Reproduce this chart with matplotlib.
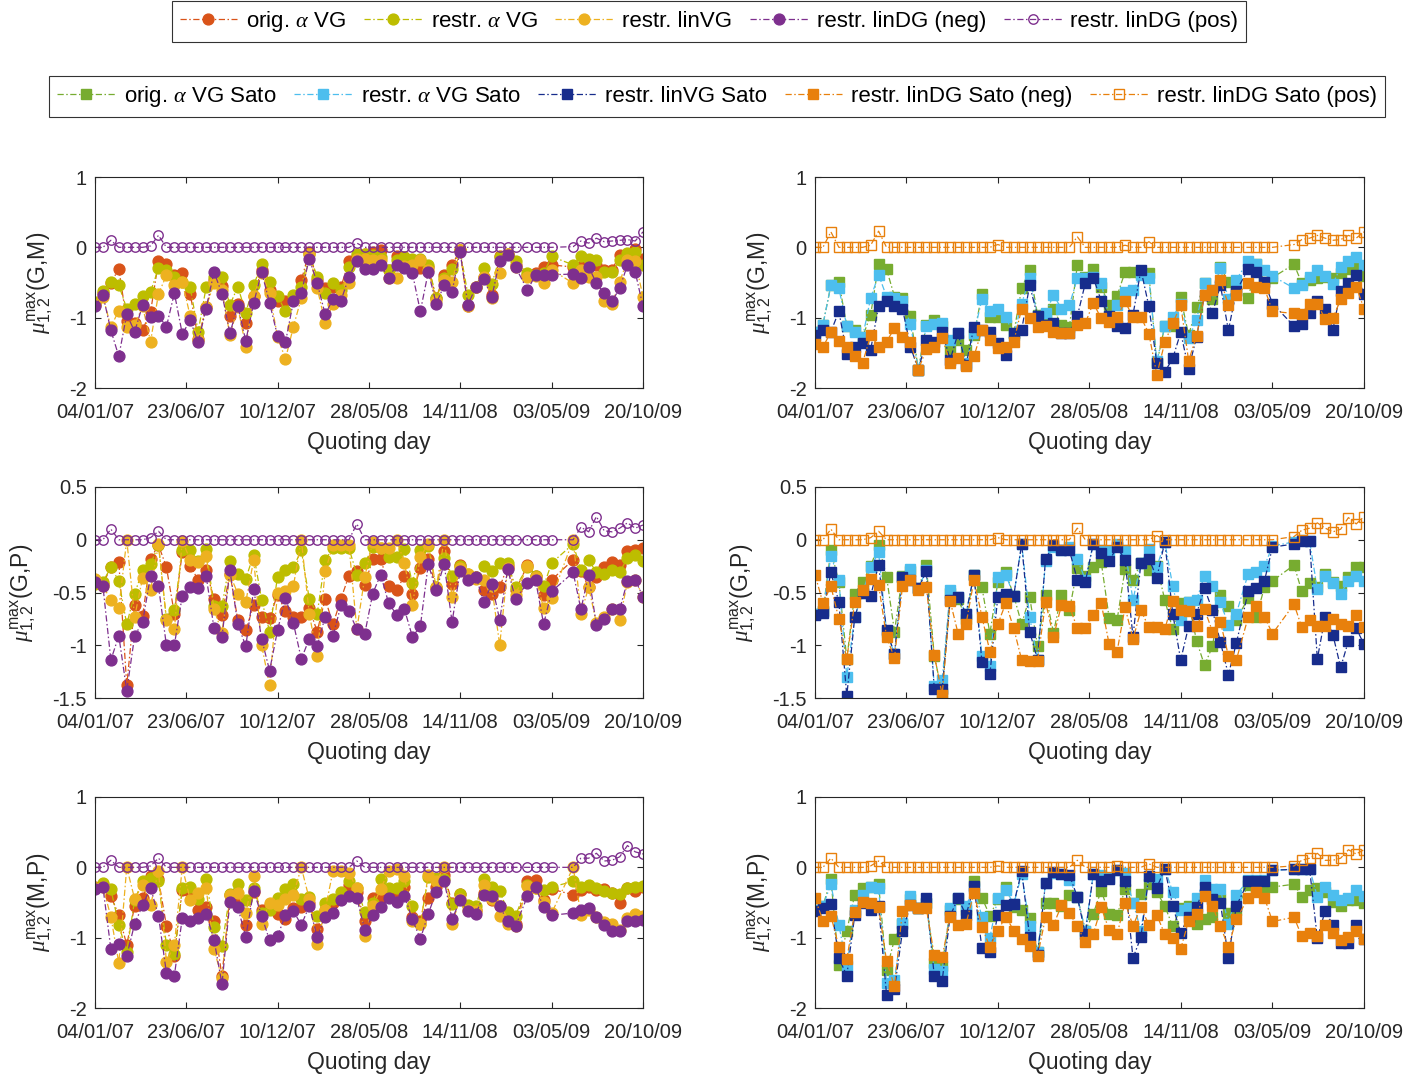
import numpy as np
import pandas as pd
import matplotlib
matplotlib.use("Agg")
import matplotlib.pyplot as plt
import matplotlib.dates as mdates
from matplotlib.lines import Line2D

plt.rcParams['font.family'] = ['Liberation Sans', 'DejaVu Sans']
plt.rcParams['mathtext.fontset'] = 'custom'
plt.rcParams['mathtext.rm'] = 'Liberation Sans'
plt.rcParams['mathtext.it'] = 'Liberation Serif:italic'

# ---------------- quoting days (offsets in days from 04/01/2007) ----------------
start = pd.Timestamp('2007-01-04')
quote_days = np.concatenate([np.arange(54) * 14.77, 805 + np.arange(4) * 15.0, 890 + np.arange(10) * 14.44])
dates = start + pd.to_timedelta(quote_days, unit='D')

# ---------------- (G,M) left ----------------
gm_orig = [-0.8,-0.65,-0.5,-0.31,-1.05,-1.08,-1.17,-0.92,-0.2,-0.23,
 -0.4,-0.36,-0.66,-1.3,-0.85,-0.47,-0.55,-0.97,-0.8,-1.08,
 -0.69,-0.32,-0.6,-0.77,-0.77,-0.72,-0.47,-0.06,-0.47,-0.58,
 -0.56,-0.56,-0.2,-0.13,-0.09,-0.06,-0.04,-0.32,-0.13,-0.14,
 -0.2,-0.3,-0.28,-0.72,-0.39,-0.25,-0.04,-0.84,-0.56,-0.42,
 -0.68,-0.13,-0.09,-0.25,-0.39,-0.37,-0.28,-0.25,-0.28,-0.28,
 -0.18,-0.25,-0.32,-0.32,-0.11,-0.11,-0.02,-0.16]
gm_ralpha = [-0.78,-0.62,-0.49,-0.54,-0.87,-0.8,-0.69,-0.63,-0.3,-0.32,
 -0.42,-0.49,-0.57,-1.2,-0.57,-0.42,-0.42,-0.82,-0.56,-0.93,
 -0.54,-0.23,-0.49,-0.69,-0.91,-0.68,-0.56,-0.09,-0.42,-0.65,
 -0.5,-0.6,-0.28,-0.09,-0.09,-0.11,-0.14,-0.32,-0.18,-0.14,
 -0.16,-0.16,-0.25,-0.72,-0.44,-0.31,-0.04,-0.68,-0.56,-0.3,
 -0.52,-0.14,-0.09,-0.2,-0.37,-0.39,-0.37,-0.13,-0.25,-0.13,
 -0.16,-0.18,-0.35,-0.35,-0.18,-0.08,-0.06,-0.25]
gm_linvg = [-0.82,-0.7,-1.13,-0.9,-1.13,-1.1,-0.84,-1.34,-0.66,-0.4,
 -0.54,-0.49,-0.98,-1.32,-0.85,-0.51,-0.61,-1.25,-0.85,-1.41,
 -0.69,-0.37,-0.65,-1.27,-1.59,-1.13,-0.72,-0.1,-0.58,-1.07,
 -0.8,-0.68,-0.51,-0.17,-0.16,-0.18,-0.18,-0.44,-0.44,-0.27,
 -0.25,-0.18,-0.32,-0.77,-0.46,-0.49,-0.04,-0.84,-0.56,-0.42,
 -0.72,-0.37,-0.09,-0.28,-0.42,-0.41,-0.51,-0.32,-0.51,-0.32,
 -0.42,-0.42,-0.76,-0.8,-0.49,-0.18,-0.2,-0.7]
gm_neg = [-0.83,-0.68,-1.18,-1.55,-0.95,-1.2,-0.82,-0.99,-0.97,-1.13,
 -0.65,-1.23,-1.04,-1.35,-0.87,-0.35,-0.66,-1.22,-0.83,-1.33,
 -0.79,-0.35,-0.79,-1.26,-1.35,-0.77,-0.65,-0.16,-0.51,-0.95,
 -0.74,-0.76,-0.42,-0.19,-0.31,-0.31,-0.25,-0.44,-0.25,-0.30,
 -0.37,-0.91,-0.35,-0.80,-0.54,-0.63,-0.06,-0.82,-0.56,-0.45,
 -0.71,-0.19,-0.11,-0.28,-0.61,-0.39,-0.39,-0.39,-0.38,-0.43,
 -0.28,-0.51,-0.65,-0.77,-0.58,-0.25,-0.35,-0.84]
gm_pos = [0,0,0.1,0,0,0,0,0.02,0.17,0,
 0,0,0,0,0,0,0,0,0,0,
 0,0,0,0,0,0,0,0,0,0,
 0,0,0,0.06,0,0,0,0,0,0,
 0,0,0,0,0,0,0,0,0,0,
 0,0,0,0,0,0,0,0,0.01,0.09,
 0.06,0.13,0.08,0.09,0.1,0.11,0.09,0.22]

# ---------------- (G,M) Sato ----------------
gms_orig = [-1.2,-1.1,-0.54,-0.49,-1.12,-1.17,-1.27,-0.96,-0.24,-0.31,
 -0.7,-0.72,-0.98,-1.74,-1.1,-1.04,-1.12,-1.46,-1.32,-1.46,
 -1.25,-0.66,-0.99,-0.99,-1.1,-1.22,-0.58,-0.32,-0.96,-0.95,
 -0.88,-1.1,-1.13,-0.25,-0.42,-0.31,-0.56,-0.82,-0.69,-0.35,
 -0.35,-0.37,-0.37,-1.65,-1.12,-1.12,-0.71,-1.25,-0.85,-0.51,
 -0.73,-0.28,-0.49,-0.61,-0.72,-0.23,-0.49,-0.43,-0.24,-0.51,
 -0.46,-0.43,-0.42,-0.44,-0.37,-0.31,-0.3,-0.41]
gms_ralpha = [-1.2,-1.1,-0.54,-0.58,-1.12,-1.2,-1.27,-0.72,-0.39,-0.7,
 -0.72,-0.77,-1.09,-1.74,-1.12,-1.09,-1.08,-1.32,-1.22,-1.65,
 -1.22,-0.74,-0.9,-0.87,-0.99,-1.25,-0.8,-0.44,-0.98,-0.94,
 -0.68,-0.87,-0.82,-0.44,-0.43,-0.42,-0.51,-0.98,-0.82,-0.63,
 -0.6,-0.4,-0.43,-1.62,-1.12,-0.99,-0.8,-1.29,-1.03,-0.5,
 -0.61,-0.3,-0.73,-0.46,-0.19,-0.24,-0.32,-0.41,-0.58,-0.54,
 -0.42,-0.32,-0.41,-0.52,-0.28,-0.19,-0.14,-0.25]
gms_linvg = [-1.25,-1.17,-1.2,-0.91,-1.51,-1.42,-1.36,-1.46,-0.83,-0.77,
 -0.83,-0.87,-1.41,-1.74,-1.32,-1.34,-1.2,-1.6,-1.22,-1.67,
 -1.13,-1.17,-1.2,-1.36,-1.53,-1.22,-1.17,-0.54,-0.98,-1.1,
 -1.08,-1.22,-1.22,-0.98,-0.51,-0.43,-0.76,-0.98,-1.12,-1.15,
 -0.96,-0.32,-0.84,-1.65,-1.77,-1.58,-1.21,-1.73,-1.27,-0.68,
 -0.93,-0.54,-1.18,-0.62,-0.31,-0.35,-0.49,-0.8,-1.12,-1.09,
 -0.93,-0.76,-0.87,-1.17,-0.62,-0.5,-0.39,-0.66]
gms_neg = [-1.37,-1.42,-1.2,-1.33,-1.41,-1.54,-1.64,-1.25,-1.41,-1.34,
 -1.15,-1.27,-1.34,-1.74,-1.45,-1.42,-1.29,-1.64,-1.58,-1.69,
 -1.55,-1.17,-1.32,-1.43,-1.41,-1.34,-0.87,-1.01,-1.13,-1.12,
 -1.2,-1.22,-1.22,-1.1,-1.08,-0.79,-1.01,-1.06,-0.99,-0.77,
 -0.99,-0.99,-1.23,-1.81,-1.35,-1.08,-0.82,-1.61,-1.26,-0.68,
 -0.61,-0.46,-0.82,-0.68,-0.51,-0.57,-0.58,-0.91,-0.94,-0.95,
 -0.8,-0.8,-1.02,-1.01,-0.74,-0.65,-0.56,-0.87]
gms_pos = [0,0,0.22,0,0,0,0,0.03,0.23,0,
 0,0,0,0,0,0,0,0,0,0,
 0,0,0,0.04,0,0,0,0,0,0,
 0,0,0,0.15,0,0,0,0,0,0.03,
 0,0,0.08,0,0,0,0,0,0,0,
 0,0,0,0,0,0,0,0,0.04,0.11,
 0.13,0.17,0.13,0.1,0.11,0.17,0.13,0.22]

# ---------------- (G,P) left ----------------
gp_orig = [-0.4,-0.42,-0.26,-0.21,-1.38,-0.62,-0.72,-0.18,-0.05,-0.26,
 -0.7,-0.12,-0.25,-0.38,-0.29,-0.56,-0.71,-0.32,-0.76,-0.86,
 -0.62,-0.73,-0.74,-0.52,-0.68,-0.73,-0.73,-0.65,-0.87,-0.56,
 -0.8,-0.56,-0.34,-0.3,-0.43,-0.18,-0.18,-0.44,-0.48,-0.34,
 -0.51,-0.27,-0.18,-0.46,-0.11,-0.42,-0.24,-0.33,-0.35,-0.48,
 -0.51,-0.45,-0.25,-0.48,-0.24,-0.34,-0.52,-0.38,-0.19,-0.3,
 -0.45,-0.35,-0.26,-0.21,-0.24,-0.11,-0.1,-0.08]
gp_ralpha = [-0.42,-0.4,-0.26,-0.39,-0.8,-0.51,-0.29,-0.23,-0.05,-0.75,
 -0.67,-0.1,-0.1,-0.2,-0.09,-0.63,-0.63,-0.2,-0.32,-0.37,
 -0.14,-0.57,-0.87,-0.35,-0.29,-0.26,-0.1,-0.56,-0.7,-0.19,
 -0.08,-0.08,-0.08,-0.33,-0.22,-0.07,-0.08,-0.16,-0.16,-0.09,
 -0.41,-0.1,-0.06,-0.45,-0.17,-0.34,-0.25,-0.32,-0.35,-0.25,
 -0.3,-0.22,-0.22,-0.45,-0.26,-0.34,-0.44,-0.22,-0.04,-0.29,
 -0.19,-0.31,-0.32,-0.29,-0.31,-0.17,-0.14,-0.2]
gp_linvg = [-0.37,-0.44,-0.57,-0.65,0.0,-0.73,-0.36,-0.48,-0.04,-0.76,
 -0.85,-0.01,-0.19,-0.21,-0.15,-0.66,-0.88,-0.33,-0.51,-0.59,
 -0.19,-1.0,-1.38,-0.5,-0.49,-0.44,0.0,-0.7,-1.1,-0.3,
 -0.05,-0.05,-0.05,-0.85,-0.35,-0.02,-0.08,-0.08,0.0,-0.22,
 -0.62,-0.16,-0.04,-0.45,0.0,-0.54,-0.27,-0.32,-0.37,-0.38,
 -0.44,-1.0,-0.27,-0.52,-0.25,-0.35,-0.65,-0.55,0.0,-0.7,
 -0.45,-0.79,-0.73,-0.66,-0.76,-0.4,-0.38,-0.54]
gp_neg = [-0.4,-0.44,-1.14,-0.91,-1.43,-0.91,-0.78,-0.34,-0.44,-1.0,
 -1.0,-0.53,-0.45,-0.46,-0.34,-0.84,-0.92,-0.29,-0.8,-1.01,
 -0.47,-0.94,-1.24,-0.86,-0.55,-0.79,-1.13,-0.94,-1.01,-0.73,
 -0.91,-0.62,-0.68,-0.85,-0.89,-0.51,-0.33,-0.6,-0.71,-0.66,
 -0.92,-0.82,-0.23,-0.48,-0.23,-0.78,-0.3,-0.38,-0.35,-0.59,
 -0.42,-0.76,-0.28,-0.56,-0.41,-0.38,-0.8,-0.49,-0.31,-0.66,
 -0.33,-0.81,-0.75,-0.66,-0.66,-0.39,-0.38,-0.54]
gp_pos = [0,0,0.1,0,0,0,0,0.02,0.08,0,
 0,0,0,0,0,0,0,0,0,0,
 0,0,0,0,0,0,0,0,0,0,
 0,0,0,0.15,0,0,0,0,0,0,
 0,0,0,0,0,0,0,0,0,0,
 0,0,0,0,0,0,0,0,0,0.12,
 0.075,0.22,0.085,0.075,0.11,0.16,0.11,0.14]

# ---------------- (G,P) Sato ----------------
gps_orig = [-0.7,-0.68,-0.1,-0.4,-1.13,-0.51,-0.4,-0.25,-0.05,-0.35,
 -0.87,-0.34,-0.3,-0.46,-0.24,-1.1,-1.45,-0.5,-0.56,-0.75,
 -0.33,-0.45,-0.89,-0.4,-0.31,-0.53,-0.8,-0.54,-1.01,-0.52,
 -0.88,-0.52,-0.67,-0.27,-0.34,-0.26,-0.21,-0.74,-0.76,-0.28,
 -0.38,-0.22,-0.29,-0.25,-0.57,-0.85,-0.6,-0.59,-0.96,-1.19,
 -1.01,-0.52,-0.63,-0.76,-0.55,-0.73,-0.45,-0.39,-0.24,-0.49,
 -0.41,-0.45,-0.32,-0.4,-0.44,-0.35,-0.26,-0.26]
gps_ralpha = [-0.7,-0.68,-0.15,-0.38,-1.3,-0.73,-0.5,-0.26,-0.12,-0.87,
 -1.08,-0.35,-0.28,-0.46,-0.29,-1.39,-1.33,-0.48,-0.54,-0.7,
 -0.33,-1.1,-1.2,-0.35,-0.33,-0.53,-0.04,-0.73,-1.14,-0.2,
 -0.07,-0.1,-0.07,-0.18,-0.38,-0.04,-0.1,-0.11,-0.04,-0.1,
 -0.57,-0.22,-0.09,-0.26,-0.02,-0.44,-0.76,-0.59,-0.57,-0.34,
 -0.44,-0.59,-0.81,-0.7,-0.32,-0.31,-0.25,-0.06,-0.02,0.0,
 -0.01,-0.47,-0.34,-0.41,-0.51,-0.39,-0.34,-0.39]
gps_linvg = [-0.71,-0.69,-0.31,-0.59,-1.48,-0.73,-0.5,-0.53,-0.24,-0.86,
 -1.08,-0.35,-0.38,-0.46,-0.3,-1.41,-1.41,-0.57,-0.54,-0.7,
 -0.33,-1.16,-1.27,-0.54,-0.51,-0.53,-0.04,-0.87,-1.14,-0.18,
 -0.05,-0.1,-0.1,-0.38,-0.4,-0.04,-0.13,-0.2,-0.07,-0.19,
 -0.92,-0.22,-0.18,-0.36,-0.02,-0.7,-1.14,-0.82,-0.7,-0.46,
 -0.67,-0.97,-1.28,-0.98,-0.49,-0.46,-0.39,-0.07,-0.04,-0.01,
 -0.01,-1.13,-0.73,-0.9,-1.21,-0.96,-0.84,-0.99]
gps_neg = [-0.33,-0.6,-0.44,-0.75,-1.13,-0.59,-0.48,-0.37,-0.43,-0.92,
 -1.12,-0.44,-0.38,-0.48,-0.45,-1.09,-1.47,-0.58,-0.89,-0.8,
 -0.38,-0.73,-1.06,-0.8,-0.6,-0.84,-1.14,-1.15,-1.15,-0.59,
 -0.92,-0.62,-0.63,-0.84,-0.84,-0.71,-0.6,-0.99,-1.06,-0.64,
 -0.94,-0.67,-0.83,-0.83,-0.85,-0.58,-0.67,-0.68,-0.82,-0.66,
 -0.87,-0.78,-1.1,-1.14,-0.73,-0.63,-0.73,-0.89,-0.61,-0.83,
 -0.76,-0.82,-0.82,-0.75,-0.8,-0.82,-0.71,-0.83]
gps_pos = [0,0,0.1,0,0,0,0,0.02,0.08,0,
 0,0,0,0,0,0,0,0,0,0,
 0,0,0,0.02,0,0,0,0,0,0,
 0,0,0,0.11,0,0,0,0,0,0,
 0,0,0,0.04,0,0,0,0,0,0,
 0,0,0,0,0,0,0,0,0.03,0.09,
 0.11,0.16,0.11,0.075,0.1,0.21,0.15,0.22]

# ---------------- (M,P) left ----------------
mp_orig = [-0.28,-0.25,-0.41,-0.68,-1.1,-0.55,-0.44,-0.12,-0.17,-0.83,
 -1.26,-0.32,-0.35,-0.6,-0.57,-0.77,-1.55,-0.4,-0.45,-0.82,
 -0.35,-0.6,-0.54,-0.66,-0.74,-0.58,-0.57,-0.5,-0.87,-0.61,
 -0.51,-0.45,-0.25,-0.35,-0.77,-0.44,-0.44,-0.37,-0.36,-0.28,
 -0.7,-0.77,-0.44,-0.28,-0.11,-0.5,-0.38,-0.55,-0.6,-0.36,
 -0.47,-0.55,-0.72,-0.8,-0.19,-0.18,-0.47,-0.31,-0.39,-0.32,
 -0.28,-0.32,-0.31,-0.37,-0.51,-0.3,-0.33,-0.28]
mp_ralpha = [-0.3,-0.22,-0.31,-0.82,-1.2,-0.46,-0.19,-0.15,-0.2,-1.1,
 -1.23,-0.3,-0.28,-0.45,-0.17,-0.85,-1.12,-0.38,-0.23,-0.46,
 -0.3,-0.65,-0.6,-0.44,-0.31,-0.24,-0.45,-0.42,-0.69,-0.5,
 -0.45,-0.35,-0.19,-0.3,-0.63,-0.5,-0.17,-0.3,-0.3,-0.2,
 -0.55,-0.8,-0.14,-0.15,-0.17,-0.52,-0.38,-0.54,-0.55,-0.17,
 -0.28,-0.33,-0.63,-0.69,-0.25,-0.3,-0.32,-0.28,-0.2,-0.28,
 -0.25,-0.3,-0.33,-0.37,-0.38,-0.3,-0.28,-0.27]
mp_linvg = [-0.3,-0.28,-0.7,-1.36,0.0,-0.45,-0.25,-0.54,-0.05,-1.34,
 -1.1,0.0,-0.46,-0.36,-0.3,-1.16,-1.58,-0.4,-0.36,-0.65,
 -0.12,-0.8,-0.5,-0.53,-0.45,-0.39,0.0,-0.45,-1.09,-0.6,
 -0.05,-0.05,-0.08,-0.3,-0.98,-0.55,-0.31,-0.05,-0.03,-0.12,
 -0.77,-0.8,-0.11,-0.2,0.0,-0.8,-0.45,-0.6,-0.62,-0.25,
 -0.45,-0.69,-0.8,-0.84,-0.27,-0.3,-0.49,-0.65,0.0,-0.68,
 -0.6,-0.7,-0.78,-0.8,-0.89,-0.72,-0.66,-0.69]
mp_neg = [-0.31,-0.28,-1.16,-1.09,-1.26,-0.8,-0.54,-0.29,-0.69,-1.5,
 -1.54,-0.72,-0.77,-0.72,-0.66,-1.03,-1.66,-0.49,-0.57,-0.99,
 -0.33,-0.69,-1.04,-0.98,-0.68,-0.62,-0.82,-0.55,-0.99,-0.7,
 -0.65,-0.47,-0.41,-0.44,-0.89,-0.68,-0.56,-0.44,-0.49,-0.41,
 -0.74,-1.02,-0.66,-0.35,-0.19,-0.74,-0.47,-0.62,-0.66,-0.39,
 -0.41,-0.55,-0.77,-0.83,-0.41,-0.28,-0.57,-0.68,-0.65,-0.6,
 -0.58,-0.7,-0.82,-0.9,-0.91,-0.77,-0.76,-0.75]
mp_pos = [0,0,0.1,0,0,0,0,0.02,0.13,0,
 0,0,0,0,0,0,0,0,0,0,
 0,0,0,0,0,0,0,0,0,0,
 0,0,0,0.09,0,0,0,0,0,0,
 0,0,0,0,0,0,0,0,0,0,
 0,0,0,0,0,0,0,0,0,0.13,
 0.13,0.2,0.09,0.1,0.15,0.31,0.22,0.19]

# ---------------- (M,P) Sato ----------------
mps_orig = [-0.6,-0.55,-0.17,-1.39,-0.9,-0.39,-0.3,-0.28,-0.24,-1.46,
 -1.02,-0.8,-0.45,-0.58,-0.5,-1.36,-1.4,-0.6,-0.45,-0.6,
 -0.19,-0.43,-0.69,-0.45,-0.28,-0.57,-0.6,-0.72,-1.2,-0.5,
 -0.5,-0.55,-0.4,-0.42,-0.9,-0.66,-0.33,-0.66,-0.68,-0.31,
 -0.51,-0.38,-0.23,-0.35,-0.55,-0.84,-0.58,-0.55,-0.81,-0.74,
 -0.7,-0.45,-0.65,-0.6,-0.25,-0.28,-0.28,-0.28,-0.24,-0.42,
 -0.32,-0.3,-0.35,-0.49,-0.55,-0.47,-0.47,-0.51]
mps_ralpha = [-0.6,-0.55,-0.24,-0.82,-1.4,-0.6,-0.4,-0.28,-0.3,-1.65,
 -1.6,-0.79,-0.41,-0.58,-0.5,-1.45,-1.47,-0.58,-0.44,-0.55,
 -0.3,-0.7,-1.0,-0.43,-0.32,-0.52,-0.1,-0.83,-1.2,-0.22,
 -0.08,-0.09,-0.18,-0.42,-0.9,-0.1,-0.11,-0.15,-0.04,-0.08,
 -0.5,-0.9,-0.12,-0.16,-0.02,-0.35,-0.61,-0.58,-0.44,-0.18,
 -0.31,-0.31,-0.8,-0.39,-0.18,-0.18,-0.18,-0.04,-0.03,-0.02,
 -0.02,-0.42,-0.28,-0.39,-0.46,-0.44,-0.32,-0.41]
mps_linvg = [-0.62,-0.58,-0.52,-1.29,-1.54,-0.68,-0.5,-0.61,-0.55,-1.81,
 -1.73,-0.91,-0.54,-0.58,-0.43,-1.54,-1.61,-0.69,-0.44,-0.68,
 -0.27,-1.15,-1.21,-0.68,-0.54,-0.52,-0.05,-0.99,-1.25,-0.22,
 -0.06,-0.09,-0.11,-0.42,-0.95,-0.1,-0.19,-0.17,-0.04,-0.19,
 -1.29,-0.99,-0.12,-0.29,-0.02,-0.55,-0.93,-0.7,-0.56,-0.28,
 -0.45,-0.51,-1.29,-0.55,-0.2,-0.19,-0.19,-0.04,-0.03,-0.02,
 -0.02,-1.01,-0.62,-0.82,-1.08,-1.08,-0.82,-1.02]
mps_neg = [-0.44,-0.76,-0.69,-1.13,-1.31,-0.63,-0.49,-0.51,-0.57,-1.33,
 -1.69,-0.62,-0.54,-0.58,-0.58,-1.25,-1.27,-0.71,-0.82,-0.8,
 -0.36,-0.85,-1.13,-0.9,-0.7,-0.9,-1.02,-1.12,-1.26,-0.71,
 -0.82,-0.54,-0.65,-0.84,-1.06,-0.95,-0.57,-0.89,-0.95,-0.5,
 -0.83,-0.57,-0.82,-0.68,-0.95,-1.01,-1.16,-0.76,-0.66,-0.41,
 -0.55,-0.84,-1.13,-0.74,-0.43,-0.35,-0.43,-0.77,-0.71,-0.98,
 -0.93,-0.98,-0.82,-0.93,-1.04,-0.99,-0.91,-1.02]
mps_pos = [0,0,0.13,0,0,0,0,0.02,0.09,0,
 0,0,0,0,0,0,0,0,0,0,
 0,0,0,0.02,0,0,0,0,0,0,
 0,0,0,0.1,0,0,0,0,0.02,0,
 0,0,0.05,0,0,0,0,0,0,0,
 0,0,0,0,0,0,0,0,0.02,0.1,
 0.13,0.2,0.1,0.1,0.13,0.25,0.19,0.25]

pair_labels = ['(G,M)', '(G,P)', '(M,P)']
ylims = [(-2, 1), (-1.5, 0.5), (-2, 1)]
yticks = [[-2, -1, 0, 1], [-1.5, -1, -0.5, 0, 0.5], [-2, -1, 0, 1]]
tick_dates = [start + pd.Timedelta(days=170 * k) for k in range(7)]

left_names = [r'orig. $\alpha$ VG', r'restr. $\alpha$ VG', 'restr. linVG', 'restr. linDG (neg)', 'restr. linDG (pos)']
right_names = [r'orig. $\alpha$ VG Sato', r'restr. $\alpha$ VG Sato', 'restr. linVG Sato',
               'restr. linDG Sato (neg)', 'restr. linDG Sato (pos)']
left_colors = ['#D95319', '#BDBD00', '#EDB120', '#7E2F8E', '#7E2F8E']
right_colors = ['#77AC30', '#4DBEEE', '#172C8C', '#E8800C', '#E8800C']

left_data = [[gm_orig, gm_ralpha, gm_linvg, gm_neg, gm_pos],
             [gp_orig, gp_ralpha, gp_linvg, gp_neg, gp_pos],
             [mp_orig, mp_ralpha, mp_linvg, mp_neg, mp_pos]]
right_data = [[gms_orig, gms_ralpha, gms_linvg, gms_neg, gms_pos],
              [gps_orig, gps_ralpha, gps_linvg, gps_neg, gps_pos],
              [mps_orig, mps_ralpha, mps_linvg, mps_neg, mps_pos]]

W, H = 1425, 1080
fig = plt.figure(figsize=(W / 100, H / 100), dpi=100)

axcol = '#262626'
DASH = (0, (5, 2, 1.2, 2))
LW = 0.9


def style(color, marker, filled):
    kw = dict(color=color, lw=LW, linestyle=DASH, marker=marker,
              markeredgecolor=color, markeredgewidth=1.0)
    if filled:
        kw['markerfacecolor'] = color
        kw['markersize'] = 7.8 if marker == 'o' else 7.2
    else:
        kw['markerfacecolor'] = 'none'
        kw['markersize'] = 6.8
    return kw


def setup(ax, r):
    ax.set_xlim(start, start + pd.Timedelta(days=1020))
    ax.set_ylim(*ylims[r])
    ax.set_yticks(yticks[r])
    ax.set_yticklabels([('%g' % v) for v in yticks[r]])
    ax.set_xticks(tick_dates)
    ax.xaxis.set_major_formatter(mdates.DateFormatter('%d/%m/%y'))
    ax.tick_params(direction='in', length=4, width=0.8, top=True, right=True,
                   labelsize=14.5, colors=axcol)
    ax.tick_params(axis='x', pad=11)
    ax.tick_params(axis='y', pad=6)
    for s in ax.spines.values():
        s.set_color(axcol)
        s.set_linewidth(0.8)
    ax.set_xlabel('Quoting day', fontsize=16.5, color=axcol, labelpad=6)
    ax.set_ylabel(r'$\mu^{\rm max}_{1,2}$' + pair_labels[r], fontsize=16.5, color=axcol, labelpad=10)


tops = [177, 487, 797]
hgt = 211
for r in range(3):
    y0 = 1 - (tops[r] + hgt) / H
    axL = fig.add_axes([95 / W, y0, 548 / W, hgt / H])
    axR = fig.add_axes([815 / W, y0, 549 / W, hgt / H])
    for k in range(5):
        axL.plot(dates, left_data[r][k], **style(left_colors[k], 'o', k < 4))
        axR.plot(dates, right_data[r][k], **style(right_colors[k], 's', k < 4))
    setup(axL, r)
    setup(axR, r)

hL = [Line2D([], [], **style(left_colors[k], 'o', k < 4)) for k in range(5)]
hR = [Line2D([], [], **style(right_colors[k], 's', k < 4)) for k in range(5)]

leg_kw = dict(ncol=5, fontsize=16, frameon=True, fancybox=False, edgecolor='black', handlelength=2.6,
              columnspacing=0.8, handletextpad=0.4, borderpad=0.35, borderaxespad=0, loc='upper center')
leg1 = fig.legend(hL, left_names, bbox_to_anchor=(709 / W, 1 - 1 / H), **leg_kw)
leg1.get_frame().set_linewidth(0.8)
leg2 = fig.legend(hR, right_names, bbox_to_anchor=(717 / W, 1 - 76 / H), **leg_kw)
leg2.get_frame().set_linewidth(0.8)

fig.savefig('out.png', dpi=100)
